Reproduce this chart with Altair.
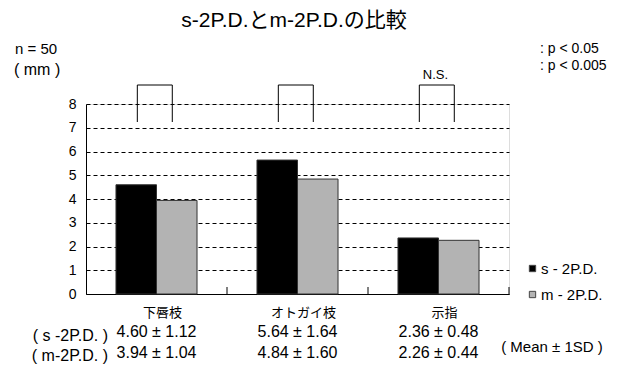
import altair as alt
import pandas as pd

FONT = "'Liberation Sans', Arial, 'Noto Sans CJK JP', sans-serif"

categories = ["下唇枝", "オトガイ枝", "示指"]
series = ["s - 2P.D.", "m - 2P.D."]
s_mean = [4.60, 5.64, 2.36]
s_sd = [1.12, 1.64, 0.48]
m_mean = [3.94, 4.84, 2.26]
m_sd = [1.04, 1.60, 0.44]
sig_labels = ["", "", "N.S."]
row_labels = ["( s -2P.D. )", "( m-2P.D. )"]
y_ticks = [0, 1, 2, 3, 4, 5, 6, 7, 8]

rows = []
for i, c in enumerate(categories):
    rows.append({"cat": c, "series": series[0], "value": s_mean[i]})
    rows.append({"cat": c, "series": series[1], "value": m_mean[i]})
bars_df = pd.DataFrame(rows)

stats_df = pd.DataFrame({
    "cat": categories,
    "s_txt": [f"{m:.2f} ± {s:.2f}" for m, s in zip(s_mean, s_sd)],
    "m_txt": [f"{m:.2f} ± {s:.2f}" for m, s in zip(m_mean, m_sd)],
    "sig": sig_labels,
})

xenc = alt.X("cat:N", sort=categories,
             scale=alt.Scale(paddingInner=0, paddingOuter=0),
             axis=alt.Axis(title=None, labelAngle=0, ticks=False, domain=True,
                           domainColor="#000", domainWidth=1, labelPadding=12,
                           labelFontSize=13, labelColor="#000", labelOffset=6,
                           labelFont=FONT))

yscale = alt.Scale(domain=[0, 8], nice=False, zero=True)
yaxis = alt.Axis(title=None, values=y_ticks, ticks=False,
                 domain=True, domainColor="#000", grid=True, labelOverlap=False,
                 gridColor="#000", gridDash=[4, 3], gridWidth=1,
                 labelPadding=10, labelFontSize=14, labelColor="#000",
                 labelFont=FONT)

bars = alt.Chart(bars_df).mark_bar(stroke="#333", strokeWidth=1).encode(
    x=xenc,
    xOffset=alt.XOffset("series:N", sort=series,
                        scale=alt.Scale(paddingOuter=0.74, paddingInner=0)),
    y=alt.Y("value:Q", scale=yscale, axis=yaxis),
    color=alt.Color("series:N", sort=series,
                    scale=alt.Scale(domain=series, range=["#000000", "#b3b3b3"]),
                    legend=alt.Legend(title=None, orient="none", legendX=439,
                                      legendY=157, symbolType="square",
                                      symbolSize=40, labelFontSize=15,
                                      labelOffset=1, rowPadding=10, padding=0,
                                      symbolStrokeColor="#444",
                                      symbolStrokeWidth=1, labelFont=FONT,
                                      labelColor="#000")),
)

xtick = alt.Chart(stats_df).mark_rule(color="#000", strokeWidth=1).encode(
    x=alt.X("cat:N", sort=categories, bandPosition=1),
    y=alt.value(190), y2=alt.value(183),
)

BR_LO, BR_HI = 18, -19
br_left = alt.Chart(stats_df).mark_rule(color="#000", strokeWidth=1).encode(
    x=alt.X("cat:N", sort=categories, bandPosition=0.364),
    y=alt.value(BR_LO), y2=alt.value(BR_HI),
)
br_right = alt.Chart(stats_df).mark_rule(color="#000", strokeWidth=1).encode(
    x=alt.X("cat:N", sort=categories, bandPosition=0.612),
    y=alt.value(BR_LO), y2=alt.value(BR_HI),
)
br_top = alt.Chart(stats_df).mark_rule(color="#000", strokeWidth=1).encode(
    x=alt.X("cat:N", sort=categories, bandPosition=0.364),
    x2=alt.X2("cat", bandPosition=0.612),
    y=alt.value(BR_HI),
)
sig_txt = alt.Chart(stats_df).mark_text(fontSize=13, font=FONT, color="#000",
                                         baseline="middle", dx=-3).encode(
    x=alt.X("cat:N", sort=categories),
    y=alt.value(BR_HI - 10),
    text="sig:N",
)

s_row = alt.Chart(stats_df).mark_text(fontSize=16, font=FONT, color="#000",
                                       baseline="middle").encode(
    x=alt.X("cat:N", sort=categories), y=alt.value(228), text="s_txt:N")
m_row = alt.Chart(stats_df).mark_text(fontSize=16, font=FONT, color="#000",
                                       baseline="middle").encode(
    x=alt.X("cat:N", sort=categories), y=alt.value(249), text="m_txt:N")

def note(txt, x, y, size=14, align="left"):
    return alt.Chart(pd.DataFrame({"t": [txt]})).mark_text(
        fontSize=size, font=FONT, color="#000", align=align, baseline="middle"
    ).encode(x=alt.value(x), y=alt.value(y), text="t:N")

title = note("s-2P.D.とm-2P.D.の比較", 208, -83, size=21, align="center")
n_txt = note("n = 50", -71, -55, size=15)
mm_txt = note("( mm )", -72, -34, size=16)
p1 = note(": p < 0.05", 454, -55, size=14)
p2 = note(": p < 0.005", 454, -38, size=14)
lab1 = note(row_labels[0], 22, 232, size=16, align="right")
lab2 = note(row_labels[1], 22, 252, size=16, align="right")
mean_txt = note("( Mean ± 1SD )", 466, 243, size=15, align="center")

chart = alt.layer(
    bars, xtick, br_left, br_right, br_top, sig_txt, s_row, m_row,
    title, n_txt, mm_txt, p1, p2, lab1, lab2, mean_txt,
).properties(
    width=423, height=190,
    autosize=alt.AutoSizeParams(type="none"),
    padding={"left": 86, "top": 104, "right": 112, "bottom": 73},
).configure_view(stroke=None).configure(background="white")

chart.save("out.html", embed_options={"renderer": "svg", "actions": False})
